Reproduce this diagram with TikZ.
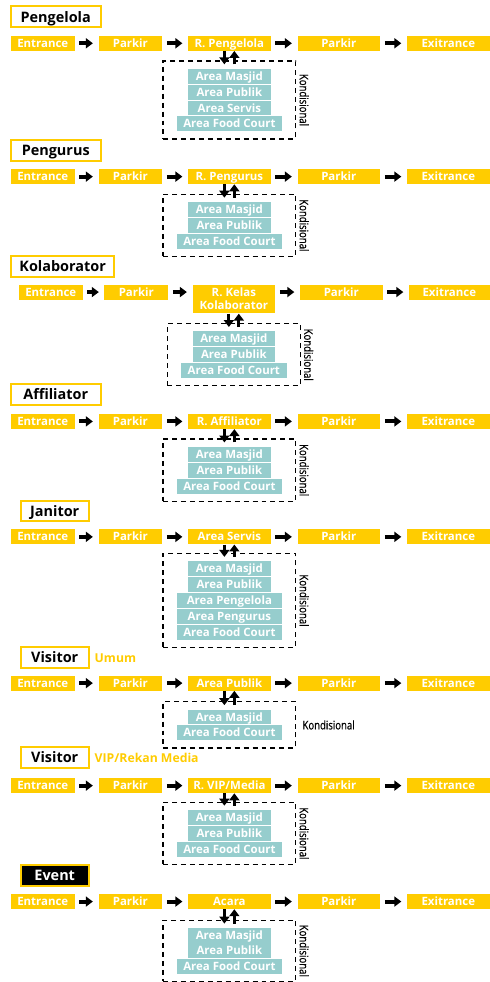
\documentclass[tikz,border=0pt]{standalone}
\usepackage{fontspec}
\setmainfont{Open Sans}
\newfontfamily\sempit[FakeStretch=0.8,FakeBold=0.4]{Open Sans}
\usetikzlibrary{arrows.meta,fit,calc}
\definecolor{kuning}{RGB}{255,204,0}
\definecolor{tosca}{RGB}{150,205,205}
\begin{document}
\begin{tikzpicture}[x=1pt,y=-1pt,
  judul/.style={draw=kuning,line width=2pt,fill=white,minimum height=21pt,inner sep=0pt,text height=13.3pt,text depth=3pt,font=\bfseries\fontsize{14.5}{15}\selectfont},
  alur/.style={fill=kuning,text=white,minimum height=15pt,inner sep=0pt,font=\bfseries\fontsize{11.5}{13}\selectfont},
  baris/.style={text height=11.2pt,text depth=3pt},
  pendek/.style={alur,baris,minimum width=64pt},
  panjang/.style={alur,baris,minimum width=83pt},
  area/.style={fill=tosca,text=white,minimum width=83pt,minimum height=15pt,inner sep=0pt,baris,font=\bfseries\fontsize{11.5}{13}\selectfont},
  lebar/.style={area,minimum width=106pt},
  kotak/.style={draw,line width=1.3pt,dash pattern=on 5pt off 4pt,inner xsep=13.5pt,inner ysep=7.5pt},
  kond/.style={inner sep=0pt,font=\sempit\fontsize{12}{12}\selectfont},
  ket/.style={anchor=west,inner sep=0pt,text=kuning,font=\bfseries\fontsize{12.3}{13}\selectfont},
  panah/.style={line width=4pt,-{Triangle[length=7pt,width=10pt]},shorten <=4.5pt,shorten >=5.5pt},
  vpanah/.style={line width=3pt,-{Triangle[length=7pt,width=10pt]}}]
\path[fill=white] (0,0) rectangle (492,982);

\node[judul,minimum width=90pt] (t1) at (56,17) {Pengelola};
\node[pendek] (e1) at (43,43.5) {Entrance};
\node[pendek] (p1) at (131,43.5) {Parkir};
\node[panjang] (r1) at (230.5,43.5) {R. Pengelola};
\node[panjang] (q1) at (340.5,43.5) {Parkir};
\node[panjang] (x1) at (450.5,43.5) {Exitrance};
\draw[panah] (e1) -- (p1);
\draw[panah] (p1) -- (r1);
\draw[panah] (r1) -- (q1);
\draw[panah] (q1) -- (x1);
\node[area] (a1) at (230.5,76.5) {Area Masjid};
\node[area] (b1) at (230.5,92.5) {Area Publik};
\node[area] (c1) at (230.5,108.5) {Area Servis};
\node[lebar] (d1) at (230.5,124.5) {Area Food Court};
\node[kotak,fit=(a1)(d1)] (k1) {};
\node[kond,rotate=-90,anchor=south] (n1) at ([xshift=3pt]k1.east) {Kondisional};
\draw[vpanah] ($(r1.south)+(-5,0)$) -- ($(r1.south |- k1.north)+(-5,4)$);
\draw[vpanah] ($(r1.south |- k1.north)+(5,4)$) -- ($(r1.south)+(5,0)$);

\node[judul,minimum width=90pt] (t2) at (56,151.5) {Pengurus};
\node[pendek] (e2) at (43,177.5) {Entrance};
\node[pendek] (p2) at (131,177.5) {Parkir};
\node[panjang] (r2) at (230.5,177.5) {R. Pengurus};
\node[panjang] (q2) at (340.5,177.5) {Parkir};
\node[panjang] (x2) at (450.5,177.5) {Exitrance};
\draw[panah] (e2) -- (p2);
\draw[panah] (p2) -- (r2);
\draw[panah] (r2) -- (q2);
\draw[panah] (q2) -- (x2);
\node[area] (a2) at (230.5,210.5) {Area Masjid};
\node[area] (b2) at (230.5,226.5) {Area Publik};
\node[lebar] (d2) at (230.5,242.5) {Area Food Court};
\node[kotak,fit=(a2)(d2)] (k2) {};
\node[kond,rotate=-90,anchor=south] (n2) at ([xshift=3pt]k2.east) {Kondisional};
\draw[vpanah] ($(r2.south)+(-5,0)$) -- ($(r2.south |- k2.north)+(-5,4)$);
\draw[vpanah] ($(r2.south |- k2.north)+(5,4)$) -- ($(r2.south)+(5,0)$);

\node[judul,minimum width=104pt] (t3) at (63,268) {Kolaborator};
\node[pendek] (e3) at (51,293.5) {Entrance};
\node[pendek] (p3) at (137,293.5) {Parkir};
\node[alur,minimum width=83pt,minimum height=29pt,align=center] (r3) at (235,300.5) {R. Kelas\\Kolaborator};
\node[panjang] (q3) at (343,293.5) {Parkir};
\node[panjang,minimum width=81pt] (x3) at (451.5,293.5) {Exitrance};
\draw[panah] (e3) -- (p3);
\draw[panah] (p3) -- (p3 -| r3.west);
\draw[panah] (r3.east |- q3) -- (q3);
\draw[panah] (q3) -- (x3);
\node[area] (a3) at (235,340.5) {Area Masjid};
\node[area] (b3) at (235,356.5) {Area Publik};
\node[lebar] (d3) at (235,372.5) {Area Food Court};
\node[kotak,fit=(a3)(d3)] (k3) {};
\node[kond,rotate=-90,anchor=south] (n3) at ([xshift=3pt]k3.east) {Kondisional};
\draw[vpanah] ($(r3.south)+(-5,0)$) -- ($(r3.south |- k3.north)+(-5,4)$);
\draw[vpanah] ($(r3.south |- k3.north)+(5,4)$) -- ($(r3.south)+(5,0)$);

\node[judul,minimum width=90pt] (t4) at (56,396.5) {Affiliator};
\node[pendek] (e4) at (43,423.5) {Entrance};
\node[pendek] (p4) at (131,423.5) {Parkir};
\node[panjang] (r4) at (230.5,423.5) {R. Affiliator};
\node[panjang] (q4) at (340.5,423.5) {Parkir};
\node[panjang] (x4) at (450.5,423.5) {Exitrance};
\draw[panah] (e4) -- (p4);
\draw[panah] (p4) -- (r4);
\draw[panah] (r4) -- (q4);
\draw[panah] (q4) -- (x4);
\node[area] (a4) at (230.5,456.5) {Area Masjid};
\node[area] (b4) at (230.5,472.5) {Area Publik};
\node[lebar] (d4) at (230.5,488.5) {Area Food Court};
\node[kotak,fit=(a4)(d4)] (k4) {};
\node[kond,rotate=-90,anchor=south] (n4) at ([xshift=3pt]k4.east) {Kondisional};
\draw[vpanah] ($(r4.south)+(-5,0)$) -- ($(r4.south |- k4.north)+(-5,4)$);
\draw[vpanah] ($(r4.south |- k4.north)+(5,4)$) -- ($(r4.south)+(5,0)$);

\node[judul,minimum width=68pt] (t5) at (55,513.5) {Janitor};
\node[pendek] (e5) at (43,539.5) {Entrance};
\node[pendek] (p5) at (131,539.5) {Parkir};
\node[panjang] (r5) at (230.5,539.5) {Area Servis};
\node[panjang] (q5) at (340.5,539.5) {Parkir};
\node[panjang] (x5) at (450.5,539.5) {Exitrance};
\draw[panah] (e5) -- (p5);
\draw[panah] (p5) -- (r5);
\draw[panah] (r5) -- (q5);
\draw[panah] (q5) -- (x5);
\node[area] (a5) at (230.5,571.5) {Area Masjid};
\node[area] (b5) at (230.5,587.5) {Area Publik};
\node[lebar] (c5) at (230.5,603.5) {Area Pengelola};
\node[lebar] (f5) at (230.5,619.5) {Area Pengurus};
\node[lebar] (d5) at (230.5,635.5) {Area Food Court};
\node[kotak,fit=(a5)(d5)] (k5) {};
\node[kond,rotate=-90,anchor=south] (n5) at ([xshift=3pt]k5.east) {Kondisional};
\draw[vpanah] ($(r5.south)+(-5,0)$) -- ($(r5.south |- k5.north)+(-5,4)$);
\draw[vpanah] ($(r5.south |- k5.north)+(5,4)$) -- ($(r5.south)+(5,0)$);

\node[judul,minimum width=68pt] (t6) at (55,661) {Visitor};
\node[ket] (u6) at (95,661) {Umum};
\node[pendek] (e6) at (43,686.5) {Entrance};
\node[pendek] (p6) at (131,686.5) {Parkir};
\node[panjang] (r6) at (230.5,686.5) {Area Publik};
\node[panjang] (q6) at (340.5,686.5) {Parkir};
\node[panjang] (x6) at (450.5,686.5) {Exitrance};
\draw[panah] (e6) -- (p6);
\draw[panah] (p6) -- (r6);
\draw[panah] (r6) -- (q6);
\draw[panah] (q6) -- (x6);
\node[area] (a6) at (230.5,720.5) {Area Masjid};
\node[lebar] (d6) at (230.5,736.5) {Area Food Court};
\node[kotak,fit=(a6)(d6)] (k6) {};
\node[kond,anchor=west] (n6) at ([xshift=6pt]k6.east) {Kondisional};
\draw[vpanah] ($(r6.south)+(-5,0)$) -- ($(r6.south |- k6.north)+(-5,4)$);
\draw[vpanah] ($(r6.south |- k6.north)+(5,4)$) -- ($(r6.south)+(5,0)$);

\node[judul,minimum width=68pt] (t7) at (55,761.5) {Visitor};
\node[ket] (u7) at (95,761.5) {VIP/Rekan Media};
\node[pendek] (e7) at (43,789.5) {Entrance};
\node[pendek] (p7) at (131,789.5) {Parkir};
\node[panjang] (r7) at (230.5,789.5) {R. VIP/Media};
\node[panjang] (q7) at (340.5,789.5) {Parkir};
\node[panjang] (x7) at (450.5,789.5) {Exitrance};
\draw[panah] (e7) -- (p7);
\draw[panah] (p7) -- (r7);
\draw[panah] (r7) -- (q7);
\draw[panah] (q7) -- (x7);
\node[area] (a7) at (230.5,821.5) {Area Masjid};
\node[area] (b7) at (230.5,837.5) {Area Publik};
\node[lebar] (d7) at (230.5,853.5) {Area Food Court};
\node[kotak,fit=(a7)(d7)] (k7) {};
\node[kond,rotate=-90,anchor=south] (n7) at ([xshift=3pt]k7.east) {Kondisional};
\draw[vpanah] ($(r7.south)+(-5,0)$) -- ($(r7.south |- k7.north)+(-5,4)$);
\draw[vpanah] ($(r7.south |- k7.north)+(5,4)$) -- ($(r7.south)+(5,0)$);

\node[judul,minimum width=68pt,fill=black,text=white] (t8) at (55,880) {Event};
\node[pendek] (e8) at (43,906) {Entrance};
\node[pendek] (p8) at (131,906) {Parkir};
\node[panjang] (r8) at (230.5,906) {Acara};
\node[panjang] (q8) at (340.5,906) {Parkir};
\node[panjang] (x8) at (450.5,906) {Exitrance};
\draw[panah] (e8) -- (p8);
\draw[panah] (p8) -- (r8);
\draw[panah] (r8) -- (q8);
\draw[panah] (q8) -- (x8);
\node[area] (a8) at (230.5,940) {Area Masjid};
\node[area] (b8) at (230.5,955.5) {Area Publik};
\node[lebar] (d8) at (230.5,971) {Area Food Court};
\node[kotak,fit=(a8)(d8)] (k8) {};
\node[kond,rotate=-90,anchor=south] (n8) at ([xshift=3pt]k8.east) {Kondisional};
\draw[vpanah] ($(r8.south)+(-5,0)$) -- ($(r8.south |- k8.north)+(-5,4)$);
\draw[vpanah] ($(r8.south |- k8.north)+(5,4)$) -- ($(r8.south)+(5,0)$);

\useasboundingbox (0,0) rectangle (492,982);
\end{tikzpicture}
\end{document}
